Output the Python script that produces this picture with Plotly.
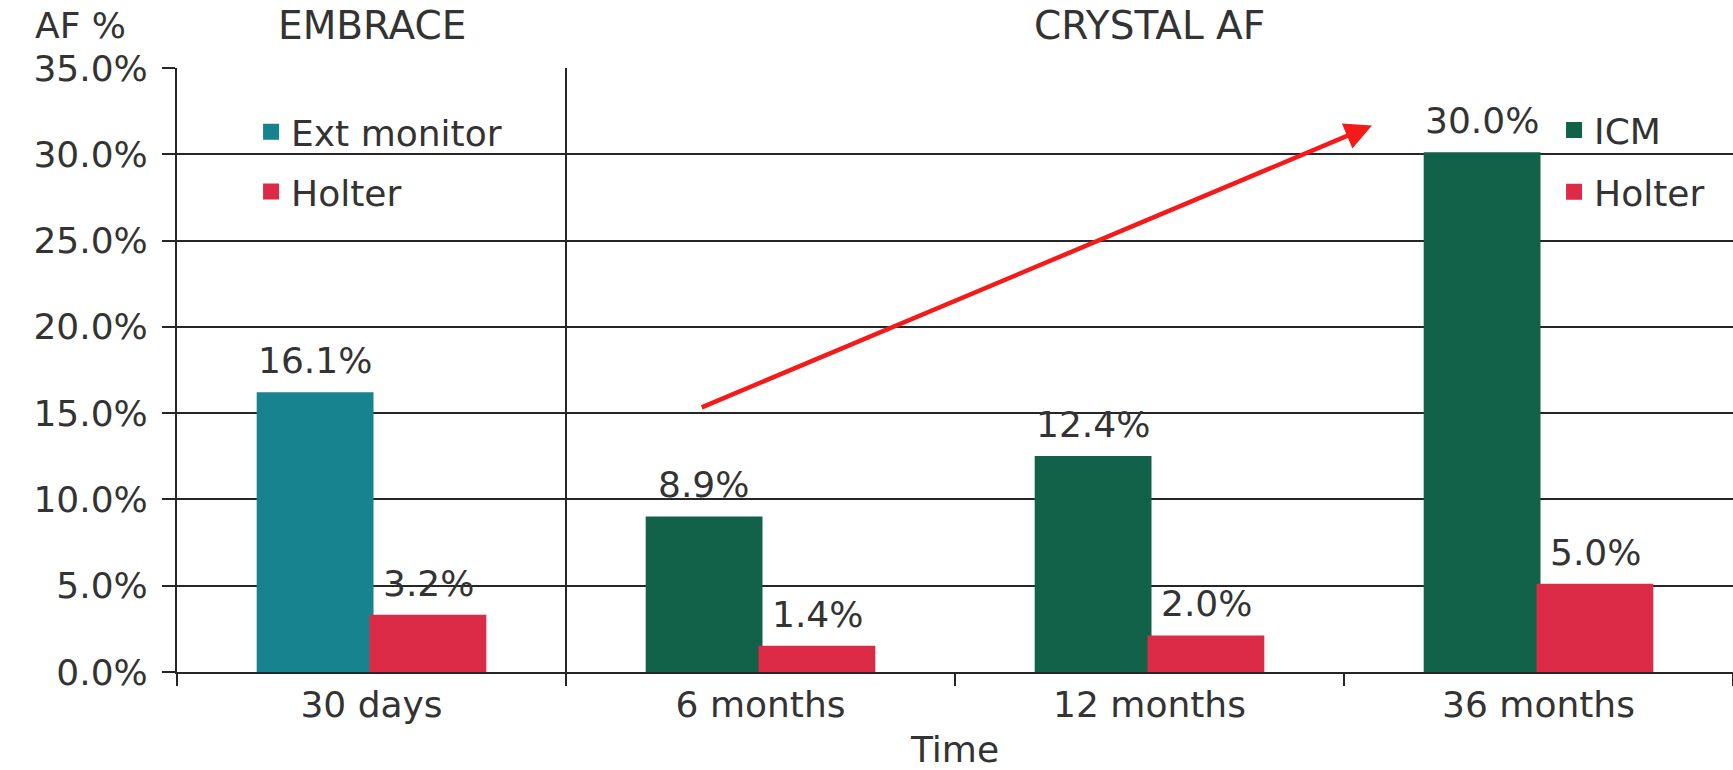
import plotly.graph_objects as go

# Detection of atrial fibrillation by monitoring strategy over time
categories = ["30 days", "6 months", "12 months", "36 months"]

ext_monitor_x = ["30 days"]
ext_monitor_y = [16.1]

icm_x = ["6 months", "12 months", "36 months"]
icm_y = [8.9, 12.4, 30.0]

holter_embrace_x = ["30 days"]
holter_embrace_y = [3.2]

holter_crystal_x = ["6 months", "12 months", "36 months"]
holter_crystal_y = [1.4, 2.0, 5.0]

y_ticks = [0, 5, 10, 15, 20, 25, 30, 35]
y_tick_labels = [f"{v:.1f}%" for v in y_ticks]

TEAL = "#17838f"
GREEN = "#126149"
RED = "#dc2b47"
INK = "#333333"
GRID = "#262626"
FONT = "DejaVu Sans"
FS = 36

fig = go.Figure()

fig.add_trace(go.Bar(
    name="Ext monitor", x=ext_monitor_x, y=ext_monitor_y,
    marker=dict(color=TEAL, line=dict(color=TEAL, width=4)),
    offsetgroup="first", legend="legend", legendgroup="ext",
))
fig.add_trace(go.Bar(
    name="Holter", x=holter_embrace_x, y=holter_embrace_y,
    marker=dict(color=RED, line=dict(color=RED, width=4)),
    offsetgroup="second", legend="legend", legendgroup="holter_e",
))
fig.add_trace(go.Bar(
    name="ICM", x=icm_x, y=icm_y,
    marker=dict(color=GREEN, line=dict(color=GREEN, width=4)),
    offsetgroup="first", legend="legend2", legendgroup="icm",
))
fig.add_trace(go.Bar(
    name="Holter", x=holter_crystal_x, y=holter_crystal_y,
    marker=dict(color=RED, line=dict(color=RED, width=4)),
    offsetgroup="second", legend="legend2", legendgroup="holter_c",
))

# Value labels above each bar
BAR_SHIFT = 57
annotations = []
for xs, ys, side in [
    (ext_monitor_x, ext_monitor_y, -1),
    (holter_embrace_x, holter_embrace_y, 1),
    (icm_x, icm_y, -1),
    (holter_crystal_x, holter_crystal_y, 1),
]:
    for xv, yv in zip(xs, ys):
        annotations.append(dict(
            x=xv, y=yv, xref="x", yref="y", text=f"{yv:.1f}%",
            showarrow=False, xshift=side * BAR_SHIFT, yshift=11,
            yanchor="bottom", font=dict(family=FONT, size=FS, color=INK),
        ))

# Headings above the plot
HEAD_Y = 1.07
annotations += [
    dict(x=-0.062, y=HEAD_Y, xref="paper", yref="paper", text="AF %",
         showarrow=False, xanchor="center", yanchor="middle",
         font=dict(family=FONT, size=FS, color=INK)),
    dict(x="30 days", y=HEAD_Y, xref="x", yref="paper", text="EMBRACE",
         showarrow=False, xanchor="center", yanchor="middle",
         font=dict(family=FONT, size=39, color=INK)),
    dict(x="12 months", y=HEAD_Y, xref="x", yref="paper", text="CRYSTAL AF",
         showarrow=False, xanchor="center", yanchor="middle",
         font=dict(family=FONT, size=39, color=INK)),
]

# Trend arrow across the CRYSTAL AF follow-up
annotations.append(dict(
    x=2.572, y=31.67, ax=0.845, ay=15.3, xref="x", yref="y",
    axref="x", ayref="y", text="", showarrow=True,
    arrowhead=2, arrowsize=1.2, arrowwidth=4.5, arrowcolor="#f51a1a",
))

fig.update_layout(
    width=1733, height=770,
    margin=dict(l=177, r=0, t=68, b=98),
    paper_bgcolor="white", plot_bgcolor="white",
    barmode="group", bargap=0.42, bargroupgap=0,
    font=dict(family=FONT, size=FS, color=INK),
    annotations=annotations,
    shapes=[dict(
        type="line", xref="x", yref="y", x0=0.5, x1=0.5, y0=0, y1=35,
        line=dict(color=GRID, width=2),
    )],
    legend=dict(
        x=0.0476, y=0.944, xanchor="left", yanchor="top", tracegroupgap=10,
        bgcolor="rgba(0,0,0,0)", font=dict(family=FONT, size=FS, color=INK),
    ),
    legend2=dict(
        x=0.885, y=0.947, xanchor="left", yanchor="top", tracegroupgap=12,
        bgcolor="rgba(0,0,0,0)", font=dict(family=FONT, size=FS, color=INK),
    ),
    showlegend=True,
)

fig.update_xaxes(
    categoryorder="array", categoryarray=categories,
    range=[-0.5, 3.5], automargin=False,
    showline=True, linecolor=GRID, linewidth=2,
    ticks="outside", tickson="boundaries", ticklen=12, tickwidth=2,
    tickcolor=GRID, showgrid=False,
    title=dict(text="Time", font=dict(family=FONT, size=FS, color=INK), standoff=23),
    tickfont=dict(family=FONT, size=FS, color=INK),
)
fig.update_yaxes(
    range=[0, 35], tickmode="array", tickvals=y_ticks, ticktext=y_tick_labels,
    automargin=False,
    showline=True, linecolor=GRID, linewidth=2,
    ticks="outside", ticklen=13, tickwidth=2, tickcolor=GRID,
    showgrid=True, gridcolor=GRID, gridwidth=2, zeroline=False,
    tickfont=dict(family=FONT, size=FS, color=INK),
    ticklabelstandoff=7,
)

fig.write_html("out.html")
